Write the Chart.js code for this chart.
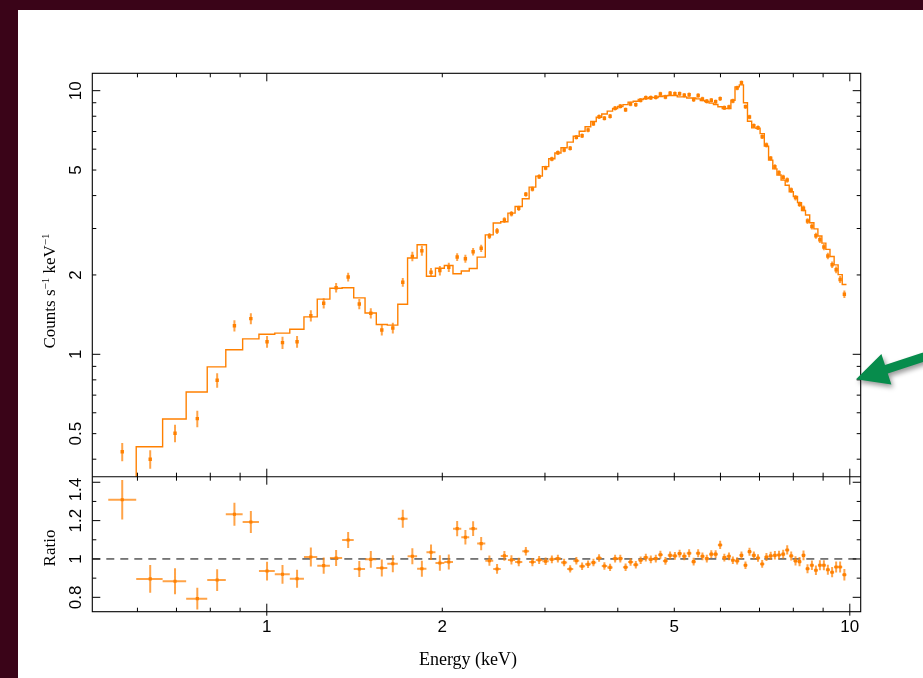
<!DOCTYPE html>
<html>
<head>
<meta charset="utf-8">
<title>Spectrum and data/model ratio</title>
<style>
  html, body { margin: 0; padding: 0; background: #3a0418; }
  canvas { display: block; }
</style>
</head>
<body>
<canvas id="spec" width="923" height="678"></canvas>
<script src="https://cdn.jsdelivr.net/npm/chart.js"></script>
<script>
// bin centres, keV
const energy = [
  0.565, 0.631, 0.696, 0.760, 0.822, 0.880, 0.939, 1.001, 1.064, 1.127,
  1.190, 1.252, 1.315, 1.379, 1.441, 1.508, 1.575, 1.645, 1.711, 1.777,
  1.845, 1.913, 1.981, 2.052, 2.121, 2.191, 2.259, 2.332, 2.409, 2.483,
  2.556, 2.628, 2.705, 2.782, 2.855, 2.932, 3.008, 3.083, 3.157, 3.236,
  3.314, 3.396, 3.474, 3.557, 3.633, 3.715, 3.794, 3.880, 3.958, 4.040,
  4.125, 4.207, 4.295, 4.378, 4.468, 4.557, 4.648, 4.733, 4.828, 4.918,
  5.012, 5.106, 5.201, 5.302, 5.397, 5.494, 5.588, 5.685, 5.787, 5.887,
  5.993, 6.093, 6.205, 6.301, 6.409, 6.519, 6.623, 6.729, 6.846, 6.959,
  7.075, 7.195, 7.317, 7.439, 7.560, 7.687, 7.810, 7.934, 8.070, 8.199,
  8.329, 8.462, 8.610, 8.747, 8.886, 9.027, 9.170, 9.326, 9.475, 9.625,
  9.788
];

// counts s-1 keV-1
const counts = [
  0.427, 0.400, 0.502, 0.570, 0.797, 1.284, 1.365, 1.116, 1.107, 1.116,
  1.401, 1.562, 1.789, 1.965, 1.552, 1.431, 1.236, 1.258, 1.876, 2.353,
  2.472, 2.047, 2.076, 2.138, 2.339, 2.305, 2.450, 2.524, 2.811, 2.937,
  3.232, 3.415, 3.580, 4.046, 4.237, 4.718, 5.091, 5.507, 5.818, 5.957,
  6.047, 6.656, 6.750, 7.094, 7.495, 7.968, 7.857, 7.996, 8.574, 8.726,
  8.471, 8.903, 8.850, 9.196, 9.406, 9.406, 9.441, 9.716, 9.465, 9.775,
  9.741, 9.741, 9.605, 9.656, 9.245, 9.590, 9.301, 9.116, 9.196, 9.085,
  9.326, 8.620, 8.674, 9.140, 10.24, 10.72, 8.697, 7.948, 7.365, 7.238,
  6.691, 6.223, 5.540, 5.149, 4.886, 4.694, 4.584, 4.200, 3.928, 3.707,
  3.580, 3.204, 3.053, 2.815, 2.719, 2.553, 2.360, 2.187, 2.092, 1.922,
  1.690
];

// folded model, one value per bin
const model = [
  0.326, 0.446, 0.568, 0.719, 0.896, 1.041, 1.144, 1.191, 1.203, 1.244,
  1.387, 1.619, 1.780, 1.788, 1.637, 1.434, 1.297, 1.290, 1.548, 2.320,
  2.605, 1.978, 2.121, 2.173, 2.020, 2.071, 2.116, 2.337, 2.837, 3.150,
  3.181, 3.432, 3.638, 3.890, 4.306, 4.742, 5.153, 5.518, 5.806, 6.072,
  6.379, 6.716, 7.017, 7.298, 7.640, 7.928, 8.159, 8.364, 8.557, 8.709,
  8.852, 9.048, 9.124, 9.261, 9.341, 9.425, 9.422, 9.507, 9.561, 9.593,
  9.588, 9.476, 9.472, 9.375, 9.376, 9.311, 9.173, 9.098, 8.972, 8.863,
  8.692, 8.560, 8.554, 9.204, 10.34, 10.52, 8.994, 7.657, 7.228, 7.202,
  6.870, 6.161, 5.453, 5.053, 4.786, 4.580, 4.378, 4.134, 3.968, 3.760,
  3.513, 3.376, 3.157, 2.992, 2.812, 2.640, 2.500, 2.349, 2.184, 2.006,
  1.841
];

// data / model
const ratio = [
  1.309, 0.896, 0.884, 0.793, 0.890, 1.233, 1.193, 0.937, 0.920, 0.897,
  1.010, 0.965, 1.005, 1.099, 0.948, 0.998, 0.953, 0.975, 1.210, 1.014,
  0.949, 1.035, 0.979, 0.984, 1.158, 1.113, 1.158, 1.080, 0.991, 0.948,
  1.016, 0.995, 0.984, 1.040, 0.984, 0.995, 0.988, 0.998, 1.002, 0.981,
  0.948, 0.991, 0.962, 0.972, 0.981, 1.005, 0.963, 0.956, 1.002, 1.002,
  0.957, 0.984, 0.970, 0.993, 1.007, 0.998, 1.002, 1.022, 0.990, 1.019,
  1.016, 1.028, 1.014, 1.030, 0.986, 1.030, 1.014, 1.002, 1.025, 1.025,
  1.073, 1.007, 1.014, 0.993, 0.990, 1.019, 0.967, 1.038, 1.019, 1.005,
  0.974, 1.010, 1.016, 1.019, 1.021, 1.025, 1.047, 1.016, 0.990, 0.986,
  1.019, 0.949, 0.967, 0.941, 0.967, 0.967, 0.944, 0.931, 0.958, 0.958,
  0.918
];

// 1 sigma error as a fraction of the value (same in both panels)
const fracErr = [
  0.079, 0.081, 0.077, 0.072, 0.064, 0.049, 0.048, 0.052, 0.053, 0.052,
  0.049, 0.044, 0.042, 0.038, 0.044, 0.044, 0.047, 0.046, 0.039, 0.041,
  0.044, 0.039, 0.041, 0.040, 0.034, 0.034, 0.033, 0.032, 0.027, 0.027,
  0.025, 0.024, 0.023, 0.021, 0.022, 0.021, 0.020, 0.020, 0.020, 0.020,
  0.020, 0.020, 0.020, 0.020, 0.020, 0.020, 0.020, 0.020, 0.020, 0.020,
  0.020, 0.020, 0.020, 0.020, 0.020, 0.020, 0.020, 0.020, 0.020, 0.020,
  0.020, 0.020, 0.020, 0.020, 0.020, 0.020, 0.020, 0.020, 0.020, 0.020,
  0.020, 0.020, 0.020, 0.020, 0.019, 0.019, 0.020, 0.020, 0.020, 0.020,
  0.021, 0.021, 0.021, 0.022, 0.022, 0.022, 0.023, 0.023, 0.024, 0.024,
  0.025, 0.025, 0.026, 0.026, 0.027, 0.027, 0.028, 0.029, 0.030, 0.030,
  0.033
];

// axis ticks
const xLabels = [1, 2, 5, 10];
const xMinor = [0.6, 0.7, 0.8, 0.9, 2, 3, 4, 5, 6, 7, 8, 9];
const xMajor = [1, 10];
const yLabels = [0.5, 1, 2, 5, 10];
const yMinor = [0.4, 0.5, 0.6, 0.7, 0.8, 0.9, 2, 3, 4, 5, 6, 7, 8, 9];
const yMajor = [1, 10];
const rLabels = [0.8, 1, 1.2, 1.4];
const rMinor = [0.9, 1.1, 1.3];
const rMajor = [0.8, 1.0, 1.2, 1.4];

const ORANGE = '#ff8000';
const BAR = 'rgba(255,128,0,0.72)';
const TOP_H = 403.4, BOT_H = 135;

// bin edges halfway (in log) between neighbouring centres
const mids = [];
for (let i = 0; i < energy.length - 1; i++) mids.push(Math.sqrt(energy[i] * energy[i + 1]));
const lo = energy.map((e, i) => i === 0 ? e * e / mids[0] : mids[i - 1]);
const hi = energy.map((e, i) => i === energy.length - 1 ? e * e / mids[i - 1] : mids[i]);

const stepPts = [];
const topBars = [];
const topPts = [];
const rBarsV = [];
const rBarsH = [];
const rPts = [];
energy.forEach((e, i) => {
  stepPts.push({x: lo[i], y: model[i]}, {x: hi[i], y: model[i]});
  topBars.push({x: e, y: counts[i] * (1 - fracErr[i])}, {x: e, y: counts[i] * (1 + fracErr[i])}, {x: e, y: null});
  topPts.push({x: e, y: counts[i]});
  const re = ratio[i] * fracErr[i];
  rBarsV.push({x: e, y: ratio[i] - re}, {x: e, y: ratio[i] + re}, {x: e, y: null});
  rBarsH.push({x: lo[i], y: ratio[i]}, {x: hi[i], y: ratio[i]}, {x: hi[i], y: null});
  rPts.push({x: e, y: ratio[i]});
});

function supText(ctx, parts, cx, cy, big, small) {
  ctx.save();
  ctx.translate(cx, cy);
  ctx.rotate(-Math.PI / 2);
  ctx.textAlign = 'left';
  ctx.textBaseline = 'alphabetic';
  let total = 0;
  parts.forEach(p => { ctx.font = p[1] ? small : big; total += ctx.measureText(p[0]).width; });
  let xx = -total / 2;
  parts.forEach(p => {
    ctx.font = p[1] ? small : big;
    ctx.fillText(p[0], xx, p[1] ? -6 : 0);
    xx += ctx.measureText(p[0]).width;
  });
  ctx.restore();
}

const decor = {
  id: 'decor',
  beforeDraw(chart) {
    const ctx = chart.ctx;
    ctx.save();
    ctx.fillStyle = '#3a0418';
    ctx.fillRect(0, 0, chart.width, chart.height);
    ctx.fillStyle = '#ffffff';
    ctx.fillRect(18, 10, chart.width - 18, chart.height - 10);
    ctx.restore();
  },
  afterDraw(chart) {
    const ctx = chart.ctx;
    const a = chart.chartArea;
    const {x, y, y2} = chart.scales;
    const mid = y.bottom;
    ctx.save();
    ctx.strokeStyle = '#000';
    ctx.lineWidth = 1.1;
    ctx.strokeRect(a.left, a.top, a.right - a.left, a.bottom - a.top);
    ctx.beginPath();
    ctx.moveTo(a.left, mid); ctx.lineTo(a.right, mid);
    ctx.stroke();

    ctx.lineWidth = 1;
    ctx.beginPath();
    const xt = (v, len) => {
      const px = x.getPixelForValue(v);
      ctx.moveTo(px, a.top); ctx.lineTo(px, a.top + len);
      ctx.moveTo(px, mid - len); ctx.lineTo(px, mid + len);
      ctx.moveTo(px, a.bottom - len); ctx.lineTo(px, a.bottom + (len > 5 ? 4 : 0));
    };
    xMinor.forEach(v => xt(v, 4));
    xMajor.forEach(v => xt(v, 8));
    const yt = (sc, v, len) => {
      const py = sc.getPixelForValue(v);
      ctx.moveTo(a.left, py); ctx.lineTo(a.left + len, py);
      ctx.moveTo(a.right, py); ctx.lineTo(a.right - len, py);
    };
    yMinor.forEach(v => yt(y, v, 4));
    yMajor.forEach(v => yt(y, v, 8));
    rMinor.forEach(v => yt(y2, v, 4));
    rMajor.forEach(v => yt(y2, v, 8));
    ctx.stroke();

    // tick labels
    ctx.fillStyle = '#000';
    ctx.font = '17px "Liberation Sans", Arial, sans-serif';
    ctx.textAlign = 'center';
    ctx.textBaseline = 'alphabetic';
    xLabels.forEach(v => ctx.fillText(String(v), x.getPixelForValue(v), 632));
    const rotLabel = (txt, py, lim1, lim2) => {
      const w = ctx.measureText(txt).width / 2;
      const c = Math.min(Math.max(py, lim1 + w + 1), lim2 - w - 1);
      ctx.save();
      ctx.translate(80.5, c);
      ctx.rotate(-Math.PI / 2);
      ctx.fillText(txt, 0, 0);
      ctx.restore();
    };
    yLabels.forEach(v => rotLabel(String(v), y.getPixelForValue(v), a.top, mid));
    rLabels.forEach(v => rotLabel(String(v), y2.getPixelForValue(v), mid, a.bottom));

    // axis titles
    supText(ctx, [['Counts s', false], ['\u22121', true], [' keV', false], ['\u22121', true]], 55, 291,
      '17px "Liberation Serif", "Times New Roman", serif', '11px "Liberation Serif", "Times New Roman", serif');
    supText(ctx, [['Ratio', false]], 55, 548, '17px "Liberation Serif", "Times New Roman", serif', '11px serif');
    ctx.font = '18px "Liberation Serif", "Times New Roman", serif';
    ctx.textAlign = 'center';
    ctx.fillText('Energy (keV)', 468, 665);

    // green pointer arrow
    const tip = [856, 379.3], u = [0.950, -0.312], n = [0.312, 0.950];
    const base = [tip[0] + 32 * u[0], tip[1] + 32 * u[1]];
    const tail = [tip[0] + 130 * u[0], tip[1] + 130 * u[1]];
    const pt = (p, k) => [p[0] + k * n[0], p[1] + k * n[1]];
    const poly = [tip, pt(base, 16), pt(base, 4.5), pt(tail, 4.5), pt(tail, -4.5), pt(base, -4.5), pt(base, -16)];
    ctx.shadowColor = 'rgba(0,0,0,0.4)';
    ctx.shadowBlur = 5;
    ctx.shadowOffsetX = 2;
    ctx.shadowOffsetY = 3;
    ctx.fillStyle = '#078c4c';
    ctx.beginPath();
    poly.forEach((p, i) => i ? ctx.lineTo(p[0], p[1]) : ctx.moveTo(p[0], p[1]));
    ctx.closePath();
    ctx.fill();
    ctx.restore();
  }
};

const hidden = {
  ticks: {display: false},
  grid: {display: false, drawTicks: false},
  border: {display: false},
  title: {display: false}
};

// each dataset is clipped to the box of its own y axis (clip 0 = exactly the panel)
new Chart(document.getElementById('spec'), {
  type: 'line',
  data: {
    datasets: [
      {data: topPts, yAxisID: 'y', showLine: false, pointStyle: 'rect', pointRadius: 2.4,
       pointBackgroundColor: ORANGE, pointBorderWidth: 0, clip: 0},
      {data: rPts, yAxisID: 'y2', showLine: false, pointStyle: 'rect', pointRadius: 2.2,
       pointBackgroundColor: ORANGE, pointBorderWidth: 0, clip: 0},
      {data: topBars, yAxisID: 'y', borderColor: BAR, borderWidth: 2, pointRadius: 0, spanGaps: false, clip: 0},
      {data: rBarsV, yAxisID: 'y2', borderColor: BAR, borderWidth: 2, pointRadius: 0, spanGaps: false, clip: 0},
      {data: rBarsH, yAxisID: 'y2', borderColor: BAR, borderWidth: 2, pointRadius: 0, spanGaps: false, clip: 0},
      {data: stepPts, yAxisID: 'y', borderColor: ORANGE, borderWidth: 1.4, pointRadius: 0, clip: 0},
      {data: [{x: 0.502, y: 1}, {x: 10.44, y: 1}], yAxisID: 'y2', borderColor: '#000', borderWidth: 1,
       borderDash: [8, 6], pointRadius: 0, clip: 0}
    ]
  },
  options: {
    responsive: false,
    animation: false,
    events: [],
    layout: {padding: {left: 0, top: 73.3, right: 62.3, bottom: 0}},
    plugins: {legend: {display: false}, tooltip: {enabled: false}},
    scales: {
      x: Object.assign({type: 'logarithmic', min: 0.502, max: 10.44, bounds: 'data', position: 'bottom',
        afterFit(s) { s.height = 66.3; }}, hidden),
      // left stacked axes are placed last-defined first, so the ratio axis comes before the spectrum axis
      y2: Object.assign({type: 'linear', min: 0.725, max: 1.429, bounds: 'data', position: 'left',
        stack: 'panels', stackWeight: BOT_H, offset: false, afterFit(s) { s.width = 92.3; }}, hidden),
      y: Object.assign({type: 'logarithmic', min: 0.3433, max: 11.64, bounds: 'data', position: 'left',
        stack: 'panels', stackWeight: TOP_H, afterFit(s) { s.width = 92.3; }}, hidden)
    }
  },
  plugins: [decor]
});
</script>
</body>
</html>
